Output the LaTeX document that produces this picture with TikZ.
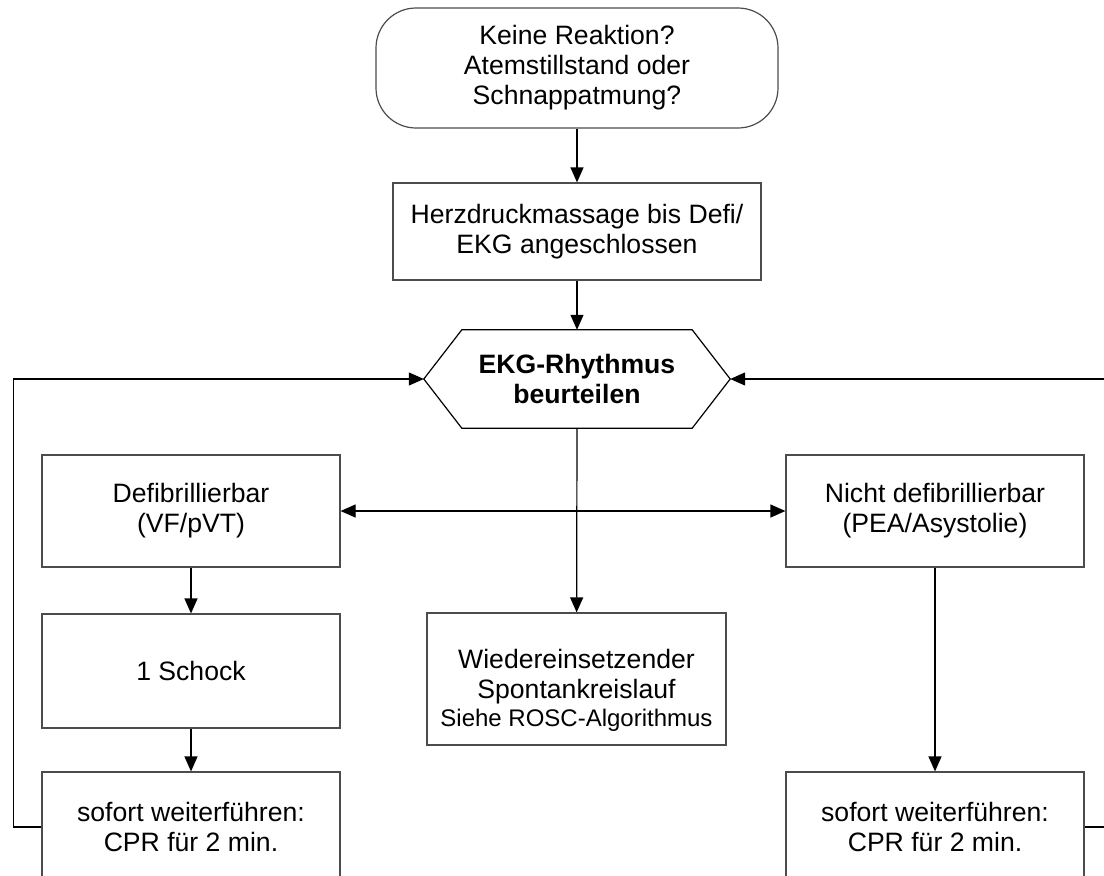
\documentclass[tikz,border=0pt]{standalone}
\usepackage{fontspec}
\setmainfont{Liberation Sans}
\usetikzlibrary{arrows.meta}
\begin{document}
\begin{tikzpicture}[x=1pt,y=1pt,
  every node/.style={font=\fontsize{26.6}{30}\selectfont, align=center, inner sep=0pt},
  boxed/.style={draw=black!70, line width=1.2pt, minimum width=298pt},
  conn/.style={draw=black, line width=1.2pt, -{Triangle[length=15pt,width=13pt]}},
  dconn/.style={draw=black, line width=1.2pt, {Triangle[length=15pt,width=13pt]}-{Triangle[length=15pt,width=13pt]}}
]
\clip (0,0) rectangle (1104,-876);
\fill[white] (0,0) rectangle (1104,-876);

\node[boxed, rounded corners=40pt, minimum width=402pt, minimum height=120pt] (start) at (577,-68)
  {Keine Reaktion?\\Atemstillstand oder\\Schnappatmung?};
\node[boxed, minimum width=368pt, minimum height=97pt] (hdm) at (577,-231.5)
  {Herzdruckmassage bis Defi/\\EKG angeschlossen};
\node[minimum width=306pt, minimum height=98pt, font=\fontsize{26.6}{30}\selectfont\bfseries] (hex) at (577,-379)
  {EKG-Rhythmus\\beurteilen};
\draw[black, line width=1.2pt] (hex.west) -- ([xshift=38pt]hex.north west) -- ([xshift=-38pt]hex.north east)
  -- (hex.east) -- ([xshift=-38pt]hex.south east) -- ([xshift=38pt]hex.south west) -- cycle;

\node[boxed, minimum height=112pt] (defi) at (191,-511) {Defibrillierbar\\(VF/pVT)};
\node[boxed, minimum height=114pt] (schock) at (191,-671) {1 Schock};
\node[boxed, minimum height=110pt] (cprl) at (191,-827) {sofort weiterführen:\\CPR für 2 min.};
\node[boxed, minimum height=112pt] (nd) at (935,-511) {Nicht defibrillierbar\\(PEA/Asystolie)};
\node[boxed, minimum height=110pt] (cprr) at (935,-827) {sofort weiterführen:\\CPR für 2 min.};
\node[boxed, minimum width=299pt, minimum height=132pt] (rosc) at (576.5,-679) {};
\node (rosctext) at (576.5,-690)
  {Wiedereinsetzender\\Spontankreislauf\\[-2pt]{\fontsize{24}{28}\selectfont Siehe ROSC-Algorithmus}};

\draw[conn] (start) -- (hdm);
\draw[conn] (hdm) -- (hex.north);
\draw[conn] (hex.south) -- (rosc);
\draw[dconn] (defi) -- (nd);
\draw[conn] (defi) -- (schock);
\draw[conn] (schock) -- (cprl);
\draw[conn] (nd) -- (cprr);
\draw[conn] (cprl.west) -- ++(-28,0) |- (hex.west);
\draw[conn] (cprr.east) -- ++(24,0) |- (hex.east);
\end{tikzpicture}
\end{document}
